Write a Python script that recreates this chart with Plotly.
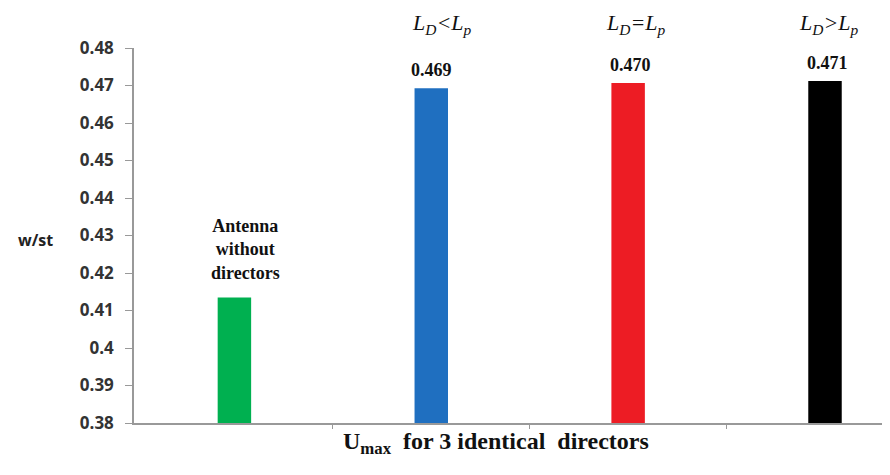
import plotly.graph_objects as go

categories = [0, 1, 2, 3]
values = [0.4135, 0.4693, 0.4707, 0.4712]
bar_labels = ["Antenna<br>without<br>directors", "0.469", "0.470", "0.471"]
top_labels = ["", "<i>L<sub>D</sub>&lt;L<sub>p</sub></i>",
              "<i>L<sub>D</sub>=L<sub>p</sub></i>", "<i>L<sub>D</sub>&gt;L<sub>p</sub></i>"]
colors = ["#00B050", "#1F6FC0", "#ED1C24", "#000000"]
y_ticks = [0.38, 0.39, 0.40, 0.41, 0.42, 0.43, 0.44, 0.45, 0.46, 0.47, 0.48]
y_tick_text = ["0.38", "0.39", "0.4", "0.41", "0.42", "0.43", "0.44", "0.45", "0.46", "0.47", "0.48"]

fig = go.Figure()
fig.add_trace(go.Bar(
    x=categories, y=values, width=0.17,
    marker=dict(color=colors, line=dict(width=0)),
    hoverinfo="skip",
))

label_shift = [11, 0, 2, 2]
label_gap = [12, 6, 6, 6]
for c, v, t, dx, dy in zip(categories, values, bar_labels, label_shift, label_gap):
    fig.add_annotation(x=c, xref="x", y=v, yref="y", text="<b>" + t + "</b>", showarrow=False,
                       yanchor="bottom", xshift=dx, yshift=dy,
                       font=dict(family="Liberation Serif", size=18, color="#111"))

top_shift = [0, 10, 7, 3]
for c, t, dx in zip(categories, top_labels, top_shift):
    if t:
        fig.add_annotation(x=c, xref="x", y=1.064, yref="paper", text=t, showarrow=False,
                           xshift=dx, yanchor="middle",
                           font=dict(family="Liberation Serif", size=22, color="#111"))

fig.add_annotation(x=0.48, xref="paper", y=-0.099, yref="paper", xanchor="center",
                   text="<b>U<sub>max</sub>  for 3 identical  directors</b>",
                   showarrow=False, font=dict(family="Liberation Serif", size=24, color="#111"))
fig.add_annotation(x=-0.131, xref="paper", y=0.488, yref="paper", xanchor="center", text="<b>w/st</b>",
                   showarrow=False, font=dict(family="Open Sans", size=16, color="#222"))

fig.update_layout(
    width=890, height=475,
    margin=dict(l=126, r=10, t=40, b=60),
    plot_bgcolor="white", paper_bgcolor="white",
    showlegend=False,
    xaxis=dict(range=[-0.51, 3.32], tickvals=[0.5, 1.5, 2.5], ticktext=["", "", ""],
               ticks="outside", ticklen=4, tickcolor="#999", showline=True,
               linecolor="#999", linewidth=1.5, showgrid=False, zeroline=False),
    yaxis=dict(range=[0.38, 0.48], tickvals=y_ticks, ticktext=["<b>" + s + "</b>" for s in y_tick_text],
               ticks="outside", ticklen=7, tickcolor="#999", showline=True,
               linecolor="#999", linewidth=1.5, showgrid=False, zeroline=False,
               ticklabelstandoff=8,
               tickfont=dict(family="Open Sans", size=17, color="#333")),
)

fig.write_html("out.html")
